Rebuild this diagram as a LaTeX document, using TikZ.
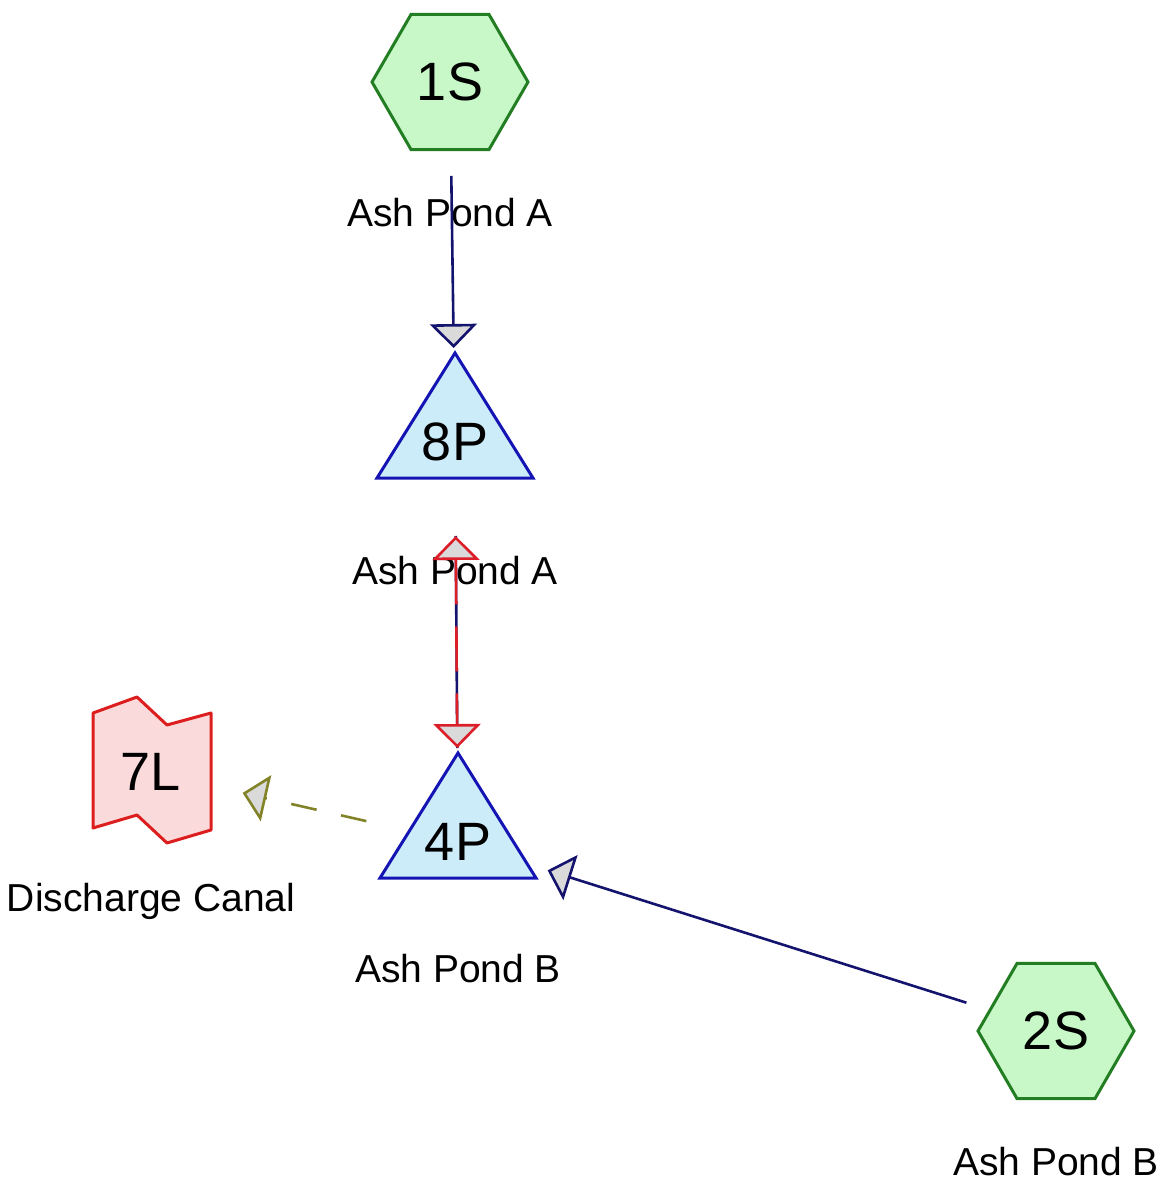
\documentclass[tikz,border=0pt]{standalone}
\usepackage{fontspec}
\setmainfont{Liberation Sans}
\usetikzlibrary{arrows.meta,shapes.geometric,positioning}
\pgfdeclarelayer{background}
\pgfsetlayers{background,main}
\definecolor{subfill}{RGB}{200,248,200}
\definecolor{subline}{RGB}{35,125,35}
\definecolor{pondfill}{RGB}{205,236,250}
\definecolor{pondline}{RGB}{20,20,180}
\definecolor{reachfill}{RGB}{250,218,218}
\definecolor{reachline}{RGB}{220,30,30}
\definecolor{linknavy}{RGB}{20,20,110}
\definecolor{linkred}{RGB}{220,30,40}
\definecolor{linkolive}{RGB}{130,130,40}
\definecolor{tipgray}{RGB}{218,218,218}
\tikzset{
  flowtip/.tip={Triangle[width=47pt,length=24pt,fill=tipgray]},
  subcat/.style={regular polygon,regular polygon sides=6,minimum size=156pt,
    inner sep=0pt,draw=subline,fill=subfill,line width=3pt,
    font=\fontsize{54pt}{60pt}\selectfont},
  nodeid/.style={inner sep=0pt,font=\fontsize{54pt}{60pt}\selectfont},
  pondshape/.style={draw=pondline,fill=pondfill,line width=3pt},
  reachshape/.style={draw=reachline,fill=reachfill,line width=3pt,line join=round},
  lbl/.style={inner sep=0pt,font=\fontsize{39pt}{45pt}\selectfont},
  link/.style={line width=2.6pt,shorten <=94pt,shorten >=94pt}
}
\begin{document}
\begin{tikzpicture}[x=1pt,y=-1pt,on grid]
   \useasboundingbox (0,0) rectangle (1167,1193);
   % sources, ponds and reach
   \node [subcat] (s1) at (450,82) {1S};
   \node [nodeid] (p8) at (455,442) {8P};
   \node [nodeid] (p4) at (458,842) {4P};
   \node [nodeid] (l7) at (151,772) {7L};
   \node [subcat] (s2) at (1056,1031) {2S};
   \node [lbl] (s1name) [below=131pt of s1] {Ash Pond A};
   \node [lbl] (p8name) [below=129pt of p8] {Ash Pond A};
   \node [lbl] (p4name) [below=127pt of p4] {Ash Pond B};
   \node [lbl] (l7name) [below=129pt of l7] {Discharge Canal};
   \node [lbl] (s2name) [below=131pt of s2] {Ash Pond B};
   \begin{pgfonlayer}{background}
     \foreach \p in {p8,p4}
       \draw [pondshape] ([yshift=89pt]\p.center) -- ([shift={(78pt,-36pt)}]\p.center)
         -- ([shift={(-78pt,-36pt)}]\p.center) -- cycle;
     \draw [reachshape] ([shift={(-58pt,59pt)}]l7.center) -- ([shift={(-14pt,75pt)}]l7.center)
       -- ([shift={(16pt,47pt)}]l7.center) -- ([shift={(60pt,59pt)}]l7.center)
       -- ([shift={(60pt,-58pt)}]l7.center) -- ([shift={(16pt,-71pt)}]l7.center)
       -- ([shift={(-14pt,-43pt)}]l7.center) -- ([shift={(-58pt,-56pt)}]l7.center) -- cycle;
   \end{pgfonlayer}
   % links
   \draw [link,linknavy,-{flowtip}] (s1.center) -- (p8.center);
   \draw [link,linknavy,-{flowtip}] (s2.center) -- (p4.center);
   \draw [link,linkolive,dash pattern=on 26pt off 25pt,-{flowtip}] (p4.center) -- (l7.center);
   \draw [link,linknavy] (p8.center) -- (p4.center);
   \draw [link,linkred,dash pattern=on 45pt off 22pt,{flowtip}-{flowtip}] (p8.center) -- (p4.center);
\end{tikzpicture}
\end{document}
